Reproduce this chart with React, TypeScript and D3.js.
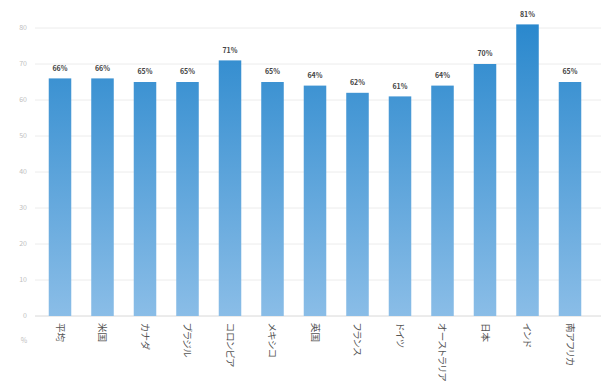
import React from "react";
import * as d3 from "d3";

const categories = ["平均", "米国", "カナダ", "ブラジル", "コロンビア", "メキシコ", "英国", "フランス", "ドイツ", "オーストラリア", "日本", "インド", "南アフリカ"];
const values = [66, 66, 65, 65, 71, 65, 64, 62, 61, 64, 70, 81, 65];
const yTicks = [0, 10, 20, 30, 40, 50, 60, 70, 80];
const unitLabel = "%";

const W = 610;
const H = 383;

export default function App() {
  const x = d3.scaleBand<string>().domain(categories).range([38.75, 591.25]).paddingInner(0.47).paddingOuter(0.235);
  const y = d3.scaleLinear().domain([0, 80]).range([316, 28]);
  const font = "'Noto Sans CJK JP', 'Noto Sans', sans-serif";
  return (
    <svg width={W} height={H} style={{ position: "absolute", left: 0, top: 0 }}>
      <style>{`.cat { font-feature-settings: "palt" 1; font-kerning: normal; }`}</style>
      <defs>
        <linearGradient id="barGrad" gradientUnits="userSpaceOnUse" x1={0} x2={0} y1={y(81)} y2={y(0)}>
          <stop offset="0%" stopColor="#2a88cd" />
          <stop offset="100%" stopColor="#8abde7" />
        </linearGradient>
      </defs>
      <rect x={0} y={0} width={W} height={H} fill="#fff" />
      {yTicks.map((t) => (
        <g key={t}>
          <line x1={35} x2={601} y1={y(t)} y2={y(t)} stroke={t === 0 ? "#d8d8d8" : "#ececec"} strokeWidth={1} />
          <text x={27} y={y(t)} dy="0.35em" textAnchor="end" fontSize={7} fill="#c0c0c0" fontFamily={font}>{t}</text>
        </g>
      ))}
      <text x={24} y={341} dy="0.35em" textAnchor="middle" fontSize={7} fill="#c0c0c0" fontFamily={font}>{unitLabel}</text>
      {categories.map((c, i) => {
        const bx = x(c)!;
        const bw = x.bandwidth();
        const v = values[i];
        return (
          <g key={c}>
            <rect x={bx} y={y(v)} width={bw} height={y(0) - y(v)} fill="url(#barGrad)" />
            <text x={bx + bw / 2} y={y(v) - 10} dy="0.35em" textAnchor="middle" fontSize={7} fontWeight="bold" fill="#444" fontFamily={font}>{v}%</text>
            <text className="cat" transform={`translate(${bx + bw / 2},${323}) rotate(90)`} dy="0.35em" textAnchor="start" fontSize={9.5} fill="#555" fontFamily={font}>{c}</text>
          </g>
        );
      })}
    </svg>
  );
}
